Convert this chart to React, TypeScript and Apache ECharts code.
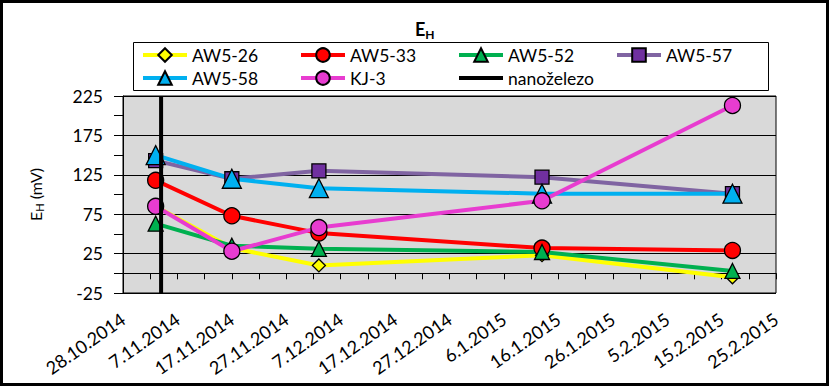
import React, { useEffect, useRef } from "react";
import * as echarts from "echarts";

const START_DATE = "28.10.2014";
const END_DATE = "25.2.2015";
const SAMPLE_DATES = ["3.11.2014", "17.11.2014", "3.12.2014", "13.1.2015", "17.2.2015"];
const NANO_DATE = "4.11.2014";

const AW5_26 = [85, 32, 10, 23, -5];
const AW5_33 = [118, 73, 51, 32, 29];
const AW5_52 = [63, 35, 31, 27, 3];
const AW5_57 = [143, 120, 130, 122, 101];
const AW5_58 = [150, 120, 108, 101, 101];
const KJ_3 = [85, 28, 58, 92, 213];

const LEGEND_NAMES = ["AW5-26", "AW5-33", "AW5-52", "AW5-57", "AW5-58", "KJ-3", "nanoželezo"];

const Y_MIN = -25;
const Y_MAX = 225;

const FONT = "Lato, 'Liberation Sans', sans-serif";

function parseDate(s: string): number {
  const [d, m, y] = s.split(".").map(Number);
  return Date.UTC(y, m - 1, d);
}
const DAY = 86400000;
const T0 = parseDate(START_DATE);
const dayOf = (s: string) => (parseDate(s) - T0) / DAY;
const fmtDay = (v: number) => {
  const dt = new Date(T0 + Math.round(v) * DAY);
  return `${dt.getUTCDate()}.${dt.getUTCMonth() + 1}.${dt.getUTCFullYear()}`;
};

export default function App() {
  const ref = useRef<HTMLDivElement>(null);
  useEffect(() => {
    document.body.style.margin = "0";
    if (!ref.current) return;
    const chart = echarts.init(ref.current, undefined, { renderer: "svg" });
    const xs = SAMPLE_DATES.map(dayOf);
    const mk = (
      name: string,
      vals: number[],
      lineColor: string,
      fill: string,
      symbol: string,
      size: number
    ) => ({
      name,
      type: "line",
      data: vals.map((v, i) => [xs[i], v]),
      symbol,
      symbolSize: size,
      lineStyle: { color: lineColor, width: 4 },
      itemStyle: { color: fill, borderColor: "#000", borderWidth: 1.3 },
      z: 3,
    });
    const nano = dayOf(NANO_DATE);
    chart.setOption({
      animation: false,
      textStyle: { fontFamily: FONT },
      title: {
        text: "{e|E}{h|H}",
        left: 410,
        top: 13,
        textStyle: {
          rich: {
            e: { fontSize: 18, fontWeight: "bold", color: "#000", fontFamily: FONT },
            h: { fontSize: 12, fontWeight: "bold", color: "#000", fontFamily: FONT, padding: [10, 0, 0, 0] },
          },
        },
      },
      legend: {
        left: 133,
        top: 46,
        width: 700,
        padding: [0, 0, 0, 8],
        itemWidth: 44,
        itemHeight: 17,
        itemGap: 5,
        lineStyle: { width: 4 },
        textStyle: { fontSize: 17.5, color: "#000", width: 102, lineHeight: 17, fontFamily: FONT },
        data: LEGEND_NAMES,
      },
      grid: {
        left: 123,
        right: 53,
        top: 96,
        bottom: 93,
        show: true,
        backgroundColor: "#D9D9D9",
        borderColor: "#000",
        borderWidth: 1,
      },
      xAxis: {
        type: "value",
        min: 0,
        max: dayOf(END_DATE),
        interval: 10,
        axisLine: { show: true, lineStyle: { color: "#000", width: 1 } },
        axisTick: { show: true, inside: false, length: 6, lineStyle: { color: "#000" } },
        minorTick: { show: true, splitNumber: 2, length: 6, lineStyle: { color: "#000" } },
        splitLine: { show: false },
        axisLabel: {
          rotate: 35,
          fontSize: 18,
          color: "#000",
          margin: 24,
          fontFamily: FONT,
          formatter: (v: number) => fmtDay(v),
        },
      },
      yAxis: {
        type: "value",
        min: Y_MIN,
        max: Y_MAX,
        interval: 25,
        name: "{e|E}{h|H}{e| (mV)}",
        nameLocation: "middle",
        nameRotate: 90,
        nameGap: 78,
        nameTextStyle: {
          rich: {
            e: { fontSize: 16, color: "#000", fontFamily: FONT },
            h: { fontSize: 11, color: "#000", fontFamily: FONT, padding: [8, 0, 0, 0] },
          },
        },
        axisLine: { show: true, lineStyle: { color: "#000", width: 1 } },
        axisTick: { show: true, inside: false, length: 9, lineStyle: { color: "#000" } },
        splitLine: { show: true, lineStyle: { color: ["#000", "transparent"], width: 1 } },
        axisLabel: {
          fontSize: 17.5,
          color: "#000",
          margin: 20,
          fontFamily: FONT,
          formatter: (v: number) => ((v - Y_MIN) % 50 === 0 ? String(v) : ""),
        },
      },
      series: [
        mk("AW5-26", AW5_26, "#FFFF00", "#FFFF00", "diamond", 13),
        mk("AW5-33", AW5_33, "#FF0000", "#FF0000", "circle", 16),
        mk("AW5-52", AW5_52, "#00B050", "#00B050", "triangle", 15),
        mk("AW5-57", AW5_57, "#8064A2", "#7030A0", "rect", 14),
        mk("AW5-58", AW5_58, "#00B0F0", "#00B0F0", "triangle", 19),
        mk("KJ-3", KJ_3, "#E83CD0", "#E83CD0", "circle", 16),
        {
          name: "nanoželezo",
          type: "line",
          data: [
            [nano, Y_MIN],
            [nano, Y_MAX],
          ],
          symbol: "none",
          lineStyle: { color: "#000", width: 4 },
          itemStyle: { color: "rgba(0,0,0,0)", borderWidth: 0 },
          z: 4,
        },
      ],
      graphic: [
        {
          type: "rect",
          shape: { x: 133.5, y: 42.5, width: 635, height: 48 },
          style: { fill: "none", stroke: "#000", lineWidth: 1 },
          z: 100,
        },
        {
          type: "rect",
          shape: { x: 1.5, y: 1.5, width: 826, height: 383 },
          style: { fill: "none", stroke: "#000", lineWidth: 3 },
          z: 100,
        },
      ],
    });
    return () => chart.dispose();
  }, []);
  return <div ref={ref} style={{ width: 829, height: 386 }} />;
}
